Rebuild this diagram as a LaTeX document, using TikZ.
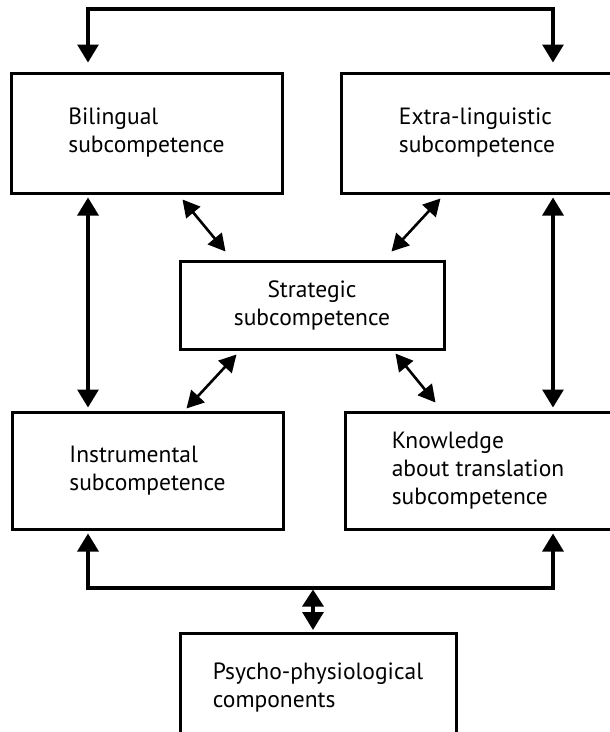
\documentclass[tikz,border=0pt]{standalone}
\usepackage{fontspec}
\setmainfont{PT Sans}
\usetikzlibrary{arrows.meta,calc}
\begin{document}
\begin{tikzpicture}[x=1pt,y=-1pt,
  box/.style={draw, line width=3pt, rectangle, inner sep=0pt, align=left,
    font=\fontsize{23.5}{28}\selectfont},
  conn/.style={line width=3.2pt, {Triangle[length=18pt,width=21pt]}-{Triangle[length=18pt,width=21pt]}},
  diag/.style={line width=2.6pt, {Triangle[length=17pt,width=18pt]}-{Triangle[length=17pt,width=18pt]}},
  small/.style={line width=3.2pt, {Triangle[length=17pt,width=21pt]}-{Triangle[length=18pt,width=21pt]}}]
\useasboundingbox (0,0) rectangle (610,732);
\clip (0,0) rectangle (610,732);
\fill[white] (0,0) rectangle (610,732);

\node[box, minimum width=271pt, minimum height=120pt] (bil) at (146.5,133) {Bilingual\\subcompetence};
\node[box, minimum width=272pt, minimum height=120pt] (ext) at (477,133) {Extra-linguistic\\subcompetence};
\node[box, align=center, minimum width=264pt, minimum height=88pt] (str) at (312,305) {Strategic\\subcompetence};
\node[box, minimum width=271pt, minimum height=117pt] (ins) at (147.5,470.5) {Instrumental\\subcompetence};
\node[box, minimum width=266pt, minimum height=117pt] (kno) at (478,470.5) {Knowledge\\about translation\\subcompetence};
\node[box, minimum width=276pt, minimum height=110pt] (psy) at (318,688) {Psycho-physiological\\components};

\coordinate (tl) at (88,9);
\coordinate (tr) at (553,9);
\coordinate (bl) at (88,588);
\coordinate (br) at (553,588);
\coordinate (bm) at (313,588);

% top loop
\draw[conn, line join=miter, shorten <=9pt, shorten >=9pt] (bil.north -| tl) -- (tl) -- (tr) -- (ext.north -| tr);
% verticals
\draw[conn, shorten <=3pt, shorten >=3pt] (bil.south -| tl) -- (ins.north -| tl);
\draw[conn, shorten <=3pt, shorten >=3pt] (ext.south -| tr) -- (kno.north -| tr);
% bottom loop
\draw[conn, line join=miter, shorten <=3pt, shorten >=3pt] (ins.south -| bl) -- (bl) -- (br) -- (kno.south -| br);
\draw[small, shorten <=1.5pt, shorten >=1.5pt] (bm) -- (psy.north -| bm);
% diagonals
\draw[diag] ([xshift=173pt,yshift=-5pt]bil.south west) -- ([xshift=47pt,yshift=8pt]str.north west);
\draw[diag] ([xshift=101pt,yshift=-4pt]ext.south west) -- ([xshift=-54pt,yshift=8pt]str.north east);
\draw[diag] ([xshift=58pt,yshift=-4pt]str.south west) -- ([xshift=176pt,yshift=2pt]ins.north west);
\draw[diag] ([xshift=-50pt,yshift=-3pt]str.south east) -- ([xshift=92pt,yshift=8pt]kno.north west);
\end{tikzpicture}
\end{document}
